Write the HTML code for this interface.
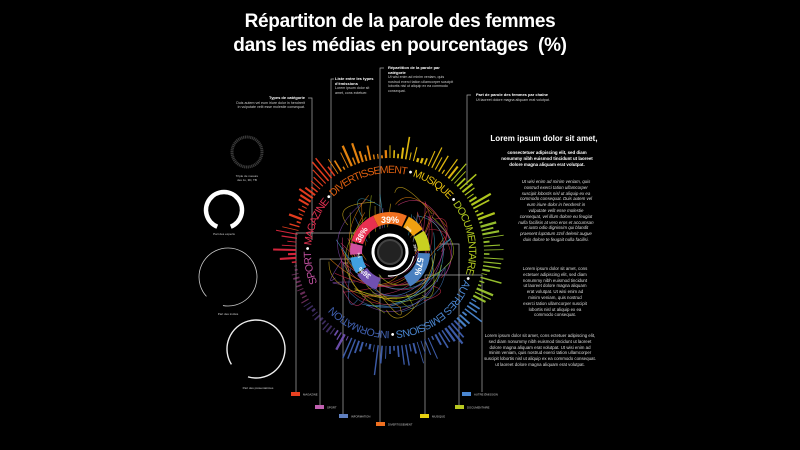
<!DOCTYPE html>
<html><head><meta charset="utf-8"><style>
html,body{margin:0;padding:0;background:#000;width:800px;height:450px;overflow:hidden}
body{position:relative;font-family:"Liberation Sans",sans-serif;color:#fff}
.t{position:absolute;left:0;width:800px;text-align:center;font-weight:bold;font-size:19px;line-height:24px;letter-spacing:-0.3px}
.s{position:absolute;font-size:3.6px;line-height:4.6px;color:#ccc}
.s b{font-size:4px;color:#fff}
.r{position:absolute;text-align:center;font-size:4.4px;line-height:5.8px;color:#ddd}
</style></head><body>
<div class="t" style="top:10px">Répartiton de la parole des femmes</div>
<div class="t" style="top:34px">dans les médias en pourcentages&nbsp; (%)</div>

<div class="s" style="left:235px;top:96px;width:70px;text-align:right"><b>Types de catégorie</b><br>Duis autem vel eum iriure dolor in hendrerit in vulputate velit esse molestie consequat.</div>
<div class="s" style="left:335px;top:77px;width:42px"><b>Liste entre les types d'émissions</b><br>Lorem ipsum dolor sit amet, cons ectetuer.</div>
<div class="s" style="left:388px;top:66px;width:68px"><b>Répartition de la parole par catégorie</b><br>Ut wisi enim ad minim veniam, quis nostrud exerci tation ullamcorper suscipit lobortis nisl ut aliquip ex ea commodo consequat.</div>
<div class="s" style="left:476px;top:93px;width:80px"><b>Part de parole des femmes par chaîne</b><br>Ut laoreet dolore magna aliquam erat volutpat.</div>

<div style="position:absolute;left:480px;top:134px;width:128px;font-size:8px;font-weight:bold;text-align:center;white-space:nowrap">Lorem ipsum dolor sit amet,</div>
<div class="r" style="left:500px;top:150px;width:94px;font-weight:bold;color:#fff">consectetuer adipiscing elit, sed diam nonummy nibh euismod tincidunt ut laoreet dolore magna aliquam erat volutpat.</div>
<div class="r" style="left:518px;top:179px;width:76px;font-style:italic">Ut wisi enim ad minim veniam, quis nostrud exerci tation ullamcorper suscipit lobortis nisl ut aliquip ex ea commodo consequat. Duis autem vel eum iriure dolor in hendrerit in vulputate velit esse molestie consequat, vel illum dolore eu feugiat nulla facilisis at vero eros et accumsan et iusto odio dignissim qui blandit praesent luptatum zzril delenit augue duis dolore te feugait nulla facilisi.</div>
<div class="r" style="left:522px;top:266px;width:66px">Lorem ipsum dolor sit amet, cons ectetuer adipiscing elit, sed diam nonummy nibh euismod tincidunt ut laoreet dolore magna aliquam erat volutpat. Ut wisi enim ad minim veniam, quis nostrud exerci tation ullamcorper suscipit lobortis nisl ut aliquip ex ea commodo consequat.</div>
<div class="r" style="left:484px;top:333px;width:112px">Lorem ipsum dolor sit amet, cons ectetuer adipiscing elit, sed diam nonummy nibh euismod tincidunt ut laoreet dolore magna aliquam erat volutpat. Ut wisi enim ad minim veniam, quis nostrud exerci tation ullamcorper suscipit lobortis nisl ut aliquip ex ea commodo consequat. ut laoreet dolore magna aliquam erat volutpat.</div>

<svg id="g" width="800" height="450" style="position:absolute;left:0;top:0" xmlns="http://www.w3.org/2000/svg">
<g id="left" fill="none"></g>
<g font-size="3" fill="#ccc" text-anchor="middle" font-family="Liberation Sans">
<text x="247" y="177">Triple de mesure</text><text x="247" y="181">des Jo, 3D, TB</text>
<text x="224" y="235">Part des experts</text>
<text x="228" y="315">Part des invités</text>
<text x="258" y="389">Part des présentatrices</text>
</g>
<g stroke="#aaa" stroke-width="0.7" fill="none">
<path d="M308 98 H312 V240"/><path d="M334 79 H331 V230"/><path d="M384 68 H380 V422"/><path d="M471 95 H467 V185"/>
<path d="M355 233 H296 V392"/><path d="M362 259 H320 V405"/><path d="M348 263 H343 V414"/>
<path d="M440 244 H459 V405"/><path d="M425 275 H482 V392"/><path d="M425 275 V414"/>
</g>
<g id="legend" font-size="2.8" fill="#ccc" font-family="Liberation Sans"></g>
<g id="ring"></g>
</svg>
<script>
const S="http://www.w3.org/2000/svg",cx=390,cy=252;
const ring=document.getElementById('ring');
function el(n,a,p){const e=document.createElementNS(S,n);for(const k in a)e.setAttribute(k,a[k]);(p||ring).appendChild(e);return e}
function pt(x,y,r,a){a=a*Math.PI/180;return [x+r*Math.sin(a),y-r*Math.cos(a)]}
function arcp(x,y,r,a0,a1){const p0=pt(x,y,r,a0),p1=pt(x,y,r,a1);const big=((a1-a0+360)%360)>180?1:0;return `M${p0} A${r},${r} 0 ${big} 1 ${p1}`}
const L=document.getElementById('left');
el('circle',{cx:247,cy:152,r:15,stroke:'#3a3a3a','stroke-width':3,'stroke-dasharray':'1.2 0.6'},L);
el('path',{d:arcp(224,210,18,202,158),stroke:'#fff','stroke-width':4.5},L);
el('path',{d:arcp(228,277,29,228,190),stroke:'#ccc','stroke-width':0.8},L);
el('path',{d:arcp(256,349,29,238,196),stroke:'#eee','stroke-width':1.4},L);
function col(a){
 a=((a%360)+360)%360;
 const stops=[[0,'#f08a10'],[40,'#e8c010'],[70,'#b8d020'],[118,'#9cc830'],[135,'#4a86d0'],[205,'#4060b0'],[238,'#7050b0'],[262,'#c050a0'],[282,'#e02840'],[325,'#f04020'],[360,'#f08a10']];
 for(let i=0;i<stops.length-1;i++){if(a>=stops[i][0]&&a<=stops[i+1][0])return stops[i+1][1]}return '#f80'}
let seed=7;function rnd(){seed=(seed*9301+49297)%233280;return seed/233280}
for(let i=0;i<150;i++){const a=i*2.4;const dim=(a>215&&a<262);const r0=94,len=3+rnd()*(dim?6:20)*(rnd()<0.15?1.5:1);
 const w=0.8+rnd()*1.6;const p0=pt(cx,cy,r0,a),p1=pt(cx,cy,r0+len,a);
 el('line',{x1:p0[0],y1:p0[1],x2:p1[0],y2:p1[1],stroke:col(a),'stroke-width':w,opacity:dim?0.55:0.95})}
const cc=['#e04080','#e8c020','#f08a10','#9050c0','#4a86d0','#b8d020','#e03050','#40b0d0'];
for(let i=0;i<55;i++){const a1=rnd()*360,a2=rnd()*360,r1=42+rnd()*20,r2=42+rnd()*20;
 const p1=pt(cx,cy,r1,a1),p2=pt(cx,cy,r2,a2);
 const m=72+rnd()*8,am=(a1+a2)/2+(rnd()-.5)*40;const q=pt(cx,cy,m,am);
 el('path',{d:`M${p1} Q${q} ${p2}`,fill:'none',stroke:cc[i%8],'stroke-width':0.6,opacity:0.75})}
const defs=el('defs',{});
const R=79;
el('path',{id:'tp',d:arcp(cx,cy,R,247,66)+' '+`A${R},${R} 0 1 1 ${pt(cx,cy,R,246.9)}`},defs);
const t1=el('text',{'font-size':10.5,'font-family':'Liberation Sans','letter-spacing':0.6});
const tpth=el('textPath',{href:'#tp',startOffset:'0'},t1);
[['SPORT','#c050a0'],[' • ','#fff'],['MAGAZINE','#e03050'],[' • ','#fff'],['DIVERTISSEMENT','#e06010'],[' • ','#fff'],['MUSIQUE','#e8c010'],[' • ','#fff'],['DOCUMENTAIRE','#b0c820'],[' • ','#fff'],['AUTRES EMISSIONS','#4a86d0'],[' • ','#fff'],['INFORMATION','#4060b0']].forEach(([t,c])=>{const s=el('tspan',{fill:c},tpth);s.textContent=t});
t1.setAttribute('textLength',468);
function arc(a0,a1,r0,r1,c){const P=(r,a)=>pt(cx,cy,r,a).join(',');
 el('path',{d:`M${P(r1,a0)} A${r1},${r1} 0 0 1 ${P(r1,a1)} L${P(r0,a1)} A${r0},${r0} 0 0 0 ${P(r0,a0)}Z`,fill:c})}
const seg=[[-25,25,'#f07020'],[28,55,'#f0a010'],[58,88,'#c8d020'],[92,150,'#4a80c0'],[200,235,'#7050b0'],[238,262,'#40a0e0'],[266,283,'#d050a0'],[286,335,'#e83050']];
seg.forEach(s=>arc(s[0],s[1],28,40,s[2]));
el('circle',{cx,cy,r:25,fill:'#000'});
el('circle',{cx,cy,r:17,fill:'none',stroke:'#fff','stroke-width':3});
el('circle',{cx,cy,r:12,fill:'#222',stroke:'#444','stroke-width':2});
el('path',{d:arcp(cx,cy,24,100,185),fill:'none',stroke:'#fff','stroke-width':1.2});
[['39%',cx,cy-29,9,0],['38%',cx-26,cy-16,8,-60],['57%',cx+26,cy+14,9,100],['36%',cx-24,cy+19,7,-140],['35%',cx+18,cy-22,3.5,40],['28%',cx+24,cy-4,3.5,80],['5%',cx-30,cy+3,3.5,-100]].forEach(([t,x,y,s,rot])=>{const e=el('text',{x,y,'font-size':s,'font-weight':'bold',fill:'#fff','text-anchor':'middle','font-family':'Liberation Sans',transform:`rotate(${rot} ${x} ${y})`});e.textContent=t});
const lg=document.getElementById('legend');
[[291,392,'#e84020','MAGAZINE'],[315,405,'#c060b0','SPORT'],[339,414,'#6080c0','INFORMATION'],[376,422,'#f07020','DIVERTISSEMENT'],[420,414,'#e8d010','MUSIQUE'],[455,405,'#b8c820','DOCUMENTAIRE'],[462,392,'#4a86d0','AUTRE ÉMISSION']].forEach(([x,y,c,t])=>{el('rect',{x,y,width:9,height:4,fill:c},lg);const e=el('text',{x:x+12,y:y+3.5},lg);e.textContent=t});
</script>
</body></html>
